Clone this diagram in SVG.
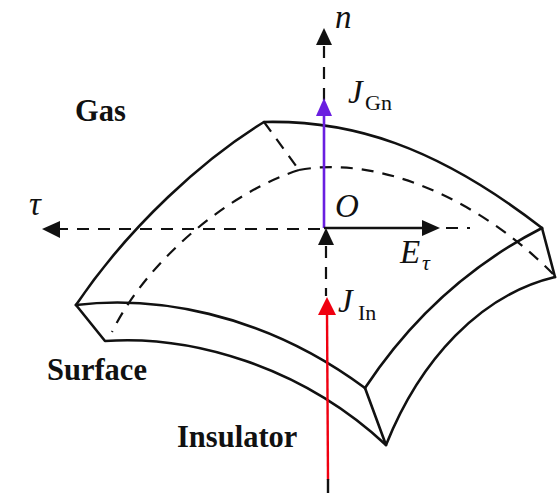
<svg xmlns="http://www.w3.org/2000/svg" width="557" height="494" viewBox="0 0 557 494">
<defs><style>
.s{fill:none;stroke:#111;stroke-width:2.6;stroke-linejoin:round;stroke-linecap:round}
.d{fill:none;stroke:#111;stroke-width:2.2;stroke-dasharray:12 9}
.b{font-family:"Liberation Serif",serif;font-weight:bold;font-size:30.5px;fill:#111}
.i{font-family:"Liberation Serif",serif;font-style:italic;font-size:33px;fill:#111}
.u{font-family:"Liberation Serif",serif;font-size:22px;fill:#111}
</style></defs>
<rect width="557" height="494" fill="#fff"/>
<g id="insulator-body">
<path class="s" d="M264 122C350 120 435 145 542 228"/>
<path class="s" d="M264 122C205 158 130 225 76 305"/>
<path class="s" d="M76 305C150 296 260 310 365 388"/>
<path class="s" d="M365 388C410 320 470 265 542 228"/>
<path class="s" d="M76 305L105 341C190 335 300 365 386 445"/>
<path class="s" d="M365 388L386 445C420 360 480 295 555 277"/>
<path class="s" d="M542 228L555 277"/>
<path class="d" d="M264 122L299 170"/>
<path class="d" d="M299 170C235 190 150 255 112 332"/>
<path class="d" d="M299 170C380 155 480 200 553 274"/>
</g>
<g id="connectors">
<line class="d" x1="324" y1="46" x2="324" y2="100"/>
<path d="M324 28L332 45L316 45Z" fill="#111"/>
<line x1="324" y1="112" x2="324" y2="228" stroke="#6a1fe0" stroke-width="2.6"/>
<path d="M324 98L332 116L316 116Z" fill="#6a1fe0"/>
<line class="d" x1="56" y1="229" x2="324" y2="229"/>
<path d="M42 229L60 221L60 238Z" fill="#111"/>
<line x1="324" y1="228" x2="425" y2="228" stroke="#111" stroke-width="2.6"/>
<path d="M440 228L422 220L422 236Z" fill="#111"/>
<line class="d" x1="446" y1="228" x2="470" y2="228"/>
<path d="M326 228L334 245L318 245Z" fill="#111"/>
<line class="d" x1="326" y1="246" x2="326" y2="296"/>
<path d="M327 297L336 315L318 315Z" fill="#f00010"/>
<line x1="327" y1="312" x2="328" y2="480" stroke="#f00010" stroke-width="2.4"/>
<line x1="328" y1="479" x2="328" y2="493" stroke="#111" stroke-width="2.4"/>
</g>
<g id="labels">
<text class="i" x="335" y="28">n</text>
<text class="i" x="348" y="103">J</text>
<text class="u" x="365" y="110">Gn</text>
<text class="i" x="335" y="217">O</text>
<text class="i" x="400" y="263">E</text>
<text class="u" x="422" y="270" font-style="italic">τ</text>
<text class="i" x="338" y="312">J</text>
<text class="u" x="358" y="320">In</text>
<text class="i" x="29" y="215">τ</text>
<text class="b" x="75" y="121">Gas</text>
<text class="b" x="47" y="380">Surface</text>
<text class="b" x="177" y="447">Insulator</text>
</g>
</svg>
